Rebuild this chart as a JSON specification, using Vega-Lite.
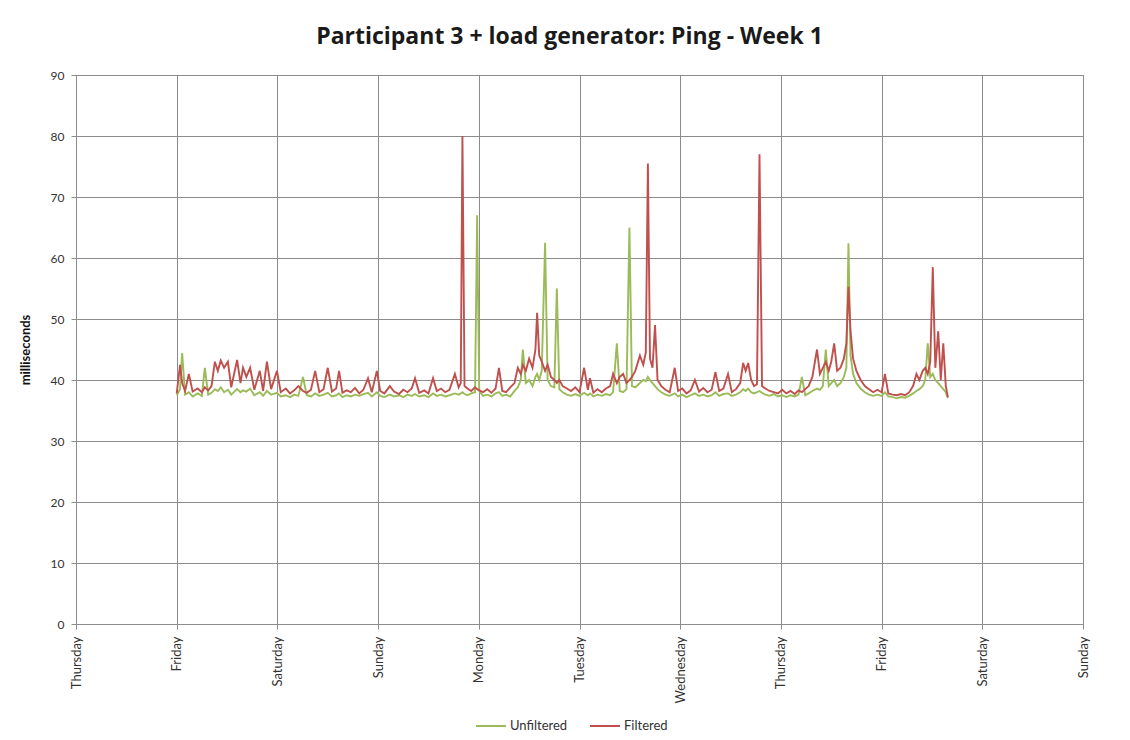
{
  "$schema": "https://vega.github.io/schema/vega-lite/v6.json",
  "width": 1007,
  "height": 549,
  "autosize": {"type": "none"},
  "padding": {"left": 76, "top": 75, "right": 47, "bottom": 116},
  "background": "white",
  "title": {"text": "Participant 3 + load generator: Ping - Week 1", "font": "Open Sans", "fontSize": 23, "fontWeight": "bold", "color": "#1a1a1a", "offset": 20, "anchor": "middle", "dx": -10},
  "data": {"values": [
    {"h": 24.0, "Unfiltered": 37.5, "Filtered": 37.8},
    {"h": 24.8, "Unfiltered": 38.5, "Filtered": 42.5},
    {"h": 25.3, "Unfiltered": 44.4, "Filtered": 39.5},
    {"h": 26.0, "Unfiltered": 37.6, "Filtered": 38.2},
    {"h": 26.9, "Unfiltered": 38.0, "Filtered": 41.0},
    {"h": 27.8, "Unfiltered": 37.3, "Filtered": 38.1},
    {"h": 29.0, "Unfiltered": 37.8, "Filtered": 38.6},
    {"h": 30.0, "Unfiltered": 37.4, "Filtered": 38.0},
    {"h": 30.7, "Unfiltered": 42.0, "Filtered": 38.8},
    {"h": 31.5, "Unfiltered": 37.6, "Filtered": 38.3},
    {"h": 32.3, "Unfiltered": 37.9, "Filtered": 39.0},
    {"h": 33.1, "Unfiltered": 38.5, "Filtered": 43.0},
    {"h": 33.8, "Unfiltered": 38.2, "Filtered": 41.5},
    {"h": 34.5, "Unfiltered": 38.8, "Filtered": 43.2},
    {"h": 35.3, "Unfiltered": 38.0, "Filtered": 42.0},
    {"h": 36.2, "Unfiltered": 38.4, "Filtered": 43.0},
    {"h": 37.0, "Unfiltered": 37.6, "Filtered": 38.8},
    {"h": 38.4, "Unfiltered": 38.5, "Filtered": 43.3},
    {"h": 39.2, "Unfiltered": 38.0, "Filtered": 39.5},
    {"h": 39.8, "Unfiltered": 38.3, "Filtered": 42.0},
    {"h": 40.6, "Unfiltered": 38.1, "Filtered": 40.5},
    {"h": 41.5, "Unfiltered": 38.6, "Filtered": 42.0},
    {"h": 42.5, "Unfiltered": 37.5, "Filtered": 38.4},
    {"h": 43.8, "Unfiltered": 38.0, "Filtered": 41.5},
    {"h": 44.6, "Unfiltered": 37.4, "Filtered": 38.2},
    {"h": 45.5, "Unfiltered": 38.2, "Filtered": 43.0},
    {"h": 46.5, "Unfiltered": 37.6, "Filtered": 38.5},
    {"h": 47.9, "Unfiltered": 37.9, "Filtered": 41.5},
    {"h": 48.8, "Unfiltered": 37.3, "Filtered": 38.0},
    {"h": 50.0, "Unfiltered": 37.5, "Filtered": 38.6},
    {"h": 51.0, "Unfiltered": 37.2, "Filtered": 37.8},
    {"h": 52.0, "Unfiltered": 37.6, "Filtered": 38.3},
    {"h": 53.0, "Unfiltered": 37.4, "Filtered": 39.0},
    {"h": 54.1, "Unfiltered": 40.5, "Filtered": 38.2},
    {"h": 55.0, "Unfiltered": 37.5, "Filtered": 37.9},
    {"h": 56.0, "Unfiltered": 37.3, "Filtered": 38.4},
    {"h": 57.0, "Unfiltered": 37.8, "Filtered": 41.5},
    {"h": 58.0, "Unfiltered": 37.4, "Filtered": 38.0},
    {"h": 59.0, "Unfiltered": 37.6, "Filtered": 38.5},
    {"h": 60.0, "Unfiltered": 37.9, "Filtered": 42.0},
    {"h": 61.0, "Unfiltered": 37.3, "Filtered": 38.1},
    {"h": 62.0, "Unfiltered": 37.5, "Filtered": 38.6},
    {"h": 62.7, "Unfiltered": 37.8, "Filtered": 41.5},
    {"h": 63.5, "Unfiltered": 37.2, "Filtered": 37.9},
    {"h": 64.5, "Unfiltered": 37.5, "Filtered": 38.3},
    {"h": 65.5, "Unfiltered": 37.3, "Filtered": 38.0},
    {"h": 66.5, "Unfiltered": 37.6, "Filtered": 38.7},
    {"h": 67.5, "Unfiltered": 37.4, "Filtered": 37.8},
    {"h": 68.5, "Unfiltered": 37.7, "Filtered": 38.4},
    {"h": 69.6, "Unfiltered": 37.9, "Filtered": 40.3},
    {"h": 70.5, "Unfiltered": 37.3, "Filtered": 38.0},
    {"h": 71.7, "Unfiltered": 38.0, "Filtered": 41.5},
    {"h": 72.5, "Unfiltered": 37.4, "Filtered": 38.2},
    {"h": 73.5, "Unfiltered": 37.2, "Filtered": 37.8},
    {"h": 74.8, "Unfiltered": 37.6, "Filtered": 39.0},
    {"h": 75.8, "Unfiltered": 37.3, "Filtered": 38.1},
    {"h": 77.0, "Unfiltered": 37.5, "Filtered": 37.7},
    {"h": 78.0, "Unfiltered": 37.2, "Filtered": 38.4},
    {"h": 79.0, "Unfiltered": 37.6, "Filtered": 38.0},
    {"h": 80.0, "Unfiltered": 37.4, "Filtered": 38.6},
    {"h": 80.8, "Unfiltered": 37.7, "Filtered": 40.3},
    {"h": 81.8, "Unfiltered": 37.3, "Filtered": 37.9},
    {"h": 83.0, "Unfiltered": 37.5, "Filtered": 38.3},
    {"h": 84.0, "Unfiltered": 37.2, "Filtered": 37.8},
    {"h": 85.1, "Unfiltered": 37.8, "Filtered": 40.3},
    {"h": 86.0, "Unfiltered": 37.4, "Filtered": 38.2},
    {"h": 87.0, "Unfiltered": 37.6, "Filtered": 38.6},
    {"h": 88.0, "Unfiltered": 37.3, "Filtered": 38.0},
    {"h": 89.0, "Unfiltered": 37.5, "Filtered": 38.4},
    {"h": 90.3, "Unfiltered": 37.8, "Filtered": 41.0},
    {"h": 91.2, "Unfiltered": 37.6, "Filtered": 38.8},
    {"h": 91.7, "Unfiltered": 37.8, "Filtered": 39.5},
    {"h": 92.1, "Unfiltered": 38.0, "Filtered": 80.0},
    {"h": 92.6, "Unfiltered": 37.7, "Filtered": 39.0},
    {"h": 93.3, "Unfiltered": 37.5, "Filtered": 38.6},
    {"h": 94.2, "Unfiltered": 37.8, "Filtered": 38.2},
    {"h": 95.1, "Unfiltered": 38.0, "Filtered": 38.8},
    {"h": 95.6, "Unfiltered": 67.0, "Filtered": 38.5},
    {"h": 96.1, "Unfiltered": 38.2, "Filtered": 38.3},
    {"h": 97.0, "Unfiltered": 37.4, "Filtered": 38.0},
    {"h": 98.0, "Unfiltered": 37.6, "Filtered": 38.5},
    {"h": 99.0, "Unfiltered": 37.3, "Filtered": 37.9},
    {"h": 100.0, "Unfiltered": 37.8, "Filtered": 38.6},
    {"h": 100.8, "Unfiltered": 38.0, "Filtered": 42.0},
    {"h": 101.6, "Unfiltered": 37.4, "Filtered": 38.2},
    {"h": 102.5, "Unfiltered": 37.6, "Filtered": 38.0},
    {"h": 103.5, "Unfiltered": 37.3, "Filtered": 38.8},
    {"h": 104.5, "Unfiltered": 38.2, "Filtered": 39.5},
    {"h": 105.3, "Unfiltered": 38.8, "Filtered": 42.0},
    {"h": 106.0, "Unfiltered": 40.0, "Filtered": 41.0},
    {"h": 106.5, "Unfiltered": 45.0, "Filtered": 42.5},
    {"h": 107.2, "Unfiltered": 39.5, "Filtered": 41.5},
    {"h": 108.0, "Unfiltered": 40.0, "Filtered": 43.5},
    {"h": 108.8, "Unfiltered": 39.0, "Filtered": 42.0},
    {"h": 109.5, "Unfiltered": 40.5, "Filtered": 45.0},
    {"h": 109.9, "Unfiltered": 41.0, "Filtered": 51.0},
    {"h": 110.4, "Unfiltered": 40.0, "Filtered": 44.0},
    {"h": 111.0, "Unfiltered": 41.5, "Filtered": 43.0},
    {"h": 111.8, "Unfiltered": 62.5, "Filtered": 41.5},
    {"h": 112.4, "Unfiltered": 40.0, "Filtered": 42.5},
    {"h": 113.2, "Unfiltered": 39.0, "Filtered": 40.5},
    {"h": 114.0, "Unfiltered": 38.8, "Filtered": 40.0},
    {"h": 114.6, "Unfiltered": 55.0, "Filtered": 39.5},
    {"h": 115.2, "Unfiltered": 38.5, "Filtered": 40.0},
    {"h": 116.0, "Unfiltered": 38.0, "Filtered": 39.0},
    {"h": 117.0, "Unfiltered": 37.6, "Filtered": 38.6},
    {"h": 118.0, "Unfiltered": 37.4, "Filtered": 38.2},
    {"h": 119.0, "Unfiltered": 37.7, "Filtered": 38.8},
    {"h": 120.0, "Unfiltered": 37.4, "Filtered": 38.0},
    {"h": 121.1, "Unfiltered": 37.9, "Filtered": 42.0},
    {"h": 122.0, "Unfiltered": 37.5, "Filtered": 38.4},
    {"h": 122.5, "Unfiltered": 37.8, "Filtered": 40.3},
    {"h": 123.3, "Unfiltered": 37.3, "Filtered": 37.9},
    {"h": 124.3, "Unfiltered": 37.6, "Filtered": 38.5},
    {"h": 125.3, "Unfiltered": 37.4, "Filtered": 38.0},
    {"h": 126.3, "Unfiltered": 37.7, "Filtered": 38.6},
    {"h": 127.3, "Unfiltered": 37.5, "Filtered": 39.0},
    {"h": 128.0, "Unfiltered": 38.0, "Filtered": 41.0},
    {"h": 128.9, "Unfiltered": 46.0, "Filtered": 39.5},
    {"h": 129.6, "Unfiltered": 38.2, "Filtered": 40.5},
    {"h": 130.4, "Unfiltered": 38.0, "Filtered": 41.0},
    {"h": 131.2, "Unfiltered": 38.5, "Filtered": 39.5},
    {"h": 131.9, "Unfiltered": 65.0, "Filtered": 40.0},
    {"h": 132.5, "Unfiltered": 39.0, "Filtered": 40.5},
    {"h": 133.3, "Unfiltered": 38.8, "Filtered": 41.5},
    {"h": 134.4, "Unfiltered": 39.5, "Filtered": 44.0},
    {"h": 135.2, "Unfiltered": 40.0, "Filtered": 42.5},
    {"h": 135.8, "Unfiltered": 39.8, "Filtered": 44.5},
    {"h": 136.3, "Unfiltered": 40.5, "Filtered": 75.5},
    {"h": 136.8, "Unfiltered": 40.0, "Filtered": 43.5},
    {"h": 137.4, "Unfiltered": 39.5, "Filtered": 42.0},
    {"h": 138.0, "Unfiltered": 39.0, "Filtered": 49.0},
    {"h": 138.6, "Unfiltered": 38.5, "Filtered": 40.0},
    {"h": 139.5, "Unfiltered": 38.0, "Filtered": 39.0},
    {"h": 140.5, "Unfiltered": 37.6, "Filtered": 38.4},
    {"h": 141.5, "Unfiltered": 37.4, "Filtered": 38.0},
    {"h": 142.7, "Unfiltered": 37.8, "Filtered": 42.0},
    {"h": 143.5, "Unfiltered": 37.3, "Filtered": 38.2},
    {"h": 144.5, "Unfiltered": 37.6, "Filtered": 38.6},
    {"h": 145.5, "Unfiltered": 37.2, "Filtered": 37.8},
    {"h": 146.5, "Unfiltered": 37.5, "Filtered": 38.3},
    {"h": 147.5, "Unfiltered": 37.8, "Filtered": 40.0},
    {"h": 148.5, "Unfiltered": 37.4, "Filtered": 38.1},
    {"h": 149.5, "Unfiltered": 37.6, "Filtered": 38.7},
    {"h": 150.5, "Unfiltered": 37.3, "Filtered": 38.0},
    {"h": 151.5, "Unfiltered": 37.5, "Filtered": 38.4},
    {"h": 152.4, "Unfiltered": 38.0, "Filtered": 41.3},
    {"h": 153.3, "Unfiltered": 37.4, "Filtered": 38.2},
    {"h": 154.3, "Unfiltered": 37.7, "Filtered": 38.6},
    {"h": 155.4, "Unfiltered": 37.8, "Filtered": 41.0},
    {"h": 156.3, "Unfiltered": 37.4, "Filtered": 38.0},
    {"h": 157.3, "Unfiltered": 37.6, "Filtered": 38.5},
    {"h": 158.3, "Unfiltered": 38.0, "Filtered": 39.5},
    {"h": 159.0, "Unfiltered": 38.5, "Filtered": 42.8},
    {"h": 159.6, "Unfiltered": 38.2, "Filtered": 41.5},
    {"h": 160.2, "Unfiltered": 38.6, "Filtered": 42.8},
    {"h": 160.9, "Unfiltered": 38.0, "Filtered": 40.0},
    {"h": 161.6, "Unfiltered": 37.8, "Filtered": 39.0},
    {"h": 162.3, "Unfiltered": 38.0, "Filtered": 39.3},
    {"h": 162.9, "Unfiltered": 38.2, "Filtered": 77.0},
    {"h": 163.5, "Unfiltered": 37.9, "Filtered": 39.0},
    {"h": 164.3, "Unfiltered": 37.6, "Filtered": 38.6},
    {"h": 165.3, "Unfiltered": 37.4, "Filtered": 38.2},
    {"h": 166.3, "Unfiltered": 37.7, "Filtered": 38.0},
    {"h": 167.3, "Unfiltered": 37.3, "Filtered": 37.8},
    {"h": 168.3, "Unfiltered": 37.5, "Filtered": 38.4},
    {"h": 169.3, "Unfiltered": 37.2, "Filtered": 37.8},
    {"h": 170.3, "Unfiltered": 37.5, "Filtered": 38.2},
    {"h": 171.3, "Unfiltered": 37.3, "Filtered": 37.7},
    {"h": 172.2, "Unfiltered": 37.6, "Filtered": 38.3},
    {"h": 173.0, "Unfiltered": 40.5, "Filtered": 38.0},
    {"h": 173.8, "Unfiltered": 37.5, "Filtered": 38.5},
    {"h": 174.6, "Unfiltered": 37.8, "Filtered": 39.0},
    {"h": 175.5, "Unfiltered": 38.2, "Filtered": 40.5},
    {"h": 176.6, "Unfiltered": 38.6, "Filtered": 45.0},
    {"h": 177.3, "Unfiltered": 38.4, "Filtered": 41.0},
    {"h": 178.0, "Unfiltered": 39.0, "Filtered": 42.0},
    {"h": 178.7, "Unfiltered": 45.0, "Filtered": 43.0},
    {"h": 179.4, "Unfiltered": 39.0, "Filtered": 41.5},
    {"h": 180.0, "Unfiltered": 39.5, "Filtered": 43.0},
    {"h": 180.7, "Unfiltered": 40.0, "Filtered": 46.0},
    {"h": 181.4, "Unfiltered": 39.0, "Filtered": 41.5},
    {"h": 182.2, "Unfiltered": 39.5, "Filtered": 42.0},
    {"h": 183.0, "Unfiltered": 40.5, "Filtered": 43.5},
    {"h": 183.6, "Unfiltered": 42.0, "Filtered": 46.0},
    {"h": 184.1, "Unfiltered": 62.4, "Filtered": 55.3},
    {"h": 184.6, "Unfiltered": 44.0, "Filtered": 48.0},
    {"h": 185.2, "Unfiltered": 41.0, "Filtered": 43.5},
    {"h": 186.0, "Unfiltered": 39.5, "Filtered": 41.5},
    {"h": 187.0, "Unfiltered": 38.6, "Filtered": 40.0},
    {"h": 188.0, "Unfiltered": 38.0, "Filtered": 39.0},
    {"h": 189.0, "Unfiltered": 37.6, "Filtered": 38.5},
    {"h": 190.0, "Unfiltered": 37.4, "Filtered": 38.0},
    {"h": 191.0, "Unfiltered": 37.6, "Filtered": 38.4},
    {"h": 192.0, "Unfiltered": 37.4, "Filtered": 38.0},
    {"h": 192.8, "Unfiltered": 38.0, "Filtered": 41.0},
    {"h": 193.6, "Unfiltered": 37.3, "Filtered": 37.8},
    {"h": 194.6, "Unfiltered": 37.2, "Filtered": 37.6},
    {"h": 195.6, "Unfiltered": 37.0, "Filtered": 37.5},
    {"h": 196.6, "Unfiltered": 37.2, "Filtered": 37.7},
    {"h": 197.6, "Unfiltered": 37.1, "Filtered": 37.5},
    {"h": 198.6, "Unfiltered": 37.4, "Filtered": 38.0},
    {"h": 199.5, "Unfiltered": 37.8, "Filtered": 39.0},
    {"h": 200.3, "Unfiltered": 38.2, "Filtered": 41.0},
    {"h": 201.0, "Unfiltered": 38.5, "Filtered": 40.0},
    {"h": 201.8, "Unfiltered": 39.0, "Filtered": 41.5},
    {"h": 202.4, "Unfiltered": 40.0, "Filtered": 42.0},
    {"h": 203.0, "Unfiltered": 46.0, "Filtered": 41.0},
    {"h": 203.6, "Unfiltered": 40.5, "Filtered": 43.0},
    {"h": 204.2, "Unfiltered": 41.0, "Filtered": 58.5},
    {"h": 204.8, "Unfiltered": 40.0, "Filtered": 42.0},
    {"h": 205.5, "Unfiltered": 39.5, "Filtered": 48.0},
    {"h": 206.1, "Unfiltered": 39.0, "Filtered": 40.0},
    {"h": 206.7, "Unfiltered": 38.5, "Filtered": 46.0},
    {"h": 207.3, "Unfiltered": 38.0, "Filtered": 39.0},
    {"h": 207.8, "Unfiltered": 37.0, "Filtered": 37.2}
  ]},
  "transform": [{"fold": ["Unfiltered", "Filtered"], "as": ["series", "ms"]}],
  "mark": {"type": "line", "strokeWidth": 1.9, "interpolate": "linear"},
  "encoding": {
    "x": {
      "field": "h", "type": "quantitative",
      "scale": {"domain": [0, 240], "nice": false, "zero": false},
      "axis": {
        "values": [0, 24, 48, 72, 96, 120, 144, 168, 192, 216, 240],
        "labelExpr": "['Thursday','Friday','Saturday','Sunday','Monday','Tuesday','Wednesday','Thursday','Friday','Saturday','Sunday'][round(datum.value/24)]",
        "labelAngle": -90, "labelAlign": "right", "labelBaseline": "middle",
        "labelFontSize": 13, "labelPadding": 7, "title": null, "grid": true, "tickSize": 5
      }
    },
    "y": {
      "field": "ms", "type": "quantitative",
      "scale": {"domain": [0, 90], "nice": false},
      "axis": {
        "values": [0, 10, 20, 30, 40, 50, 60, 70, 80, 90],
        "title": "milliseconds", "titleFontSize": 13, "titleFontWeight": "bold", "titleColor": "#111111",
        "titlePadding": 18, "tickSize": 5, "labelPadding": 7, "labelFontSize": 12, "grid": true
      }
    },
    "color": {
      "field": "series", "type": "nominal",
      "scale": {"domain": ["Unfiltered", "Filtered"], "range": ["#9BBB59", "#C0504D"]},
      "legend": {
        "title": null, "orient": "none", "direction": "horizontal",
        "legendX": 399, "legendY": 635, "symbolType": "stroke", "symbolSize": 900,
        "symbolStrokeWidth": 2, "labelFontSize": 13, "labelFont": "Lato", "labelColor": "#333333",
        "columnPadding": 18, "labelOffset": 3
      }
    }
  },
  "config": {
    "view": {"stroke": "#8c8c8c", "strokeWidth": 1},
    "axis": {
      "labelFont": "Lato", "labelColor": "#333333",
      "titleFont": "Lato",
      "gridColor": "#8c8c8c", "gridOpacity": 1, "gridWidth": 1,
      "tickColor": "#8c8c8c", "domainColor": "#8c8c8c"
    }
  }
}
